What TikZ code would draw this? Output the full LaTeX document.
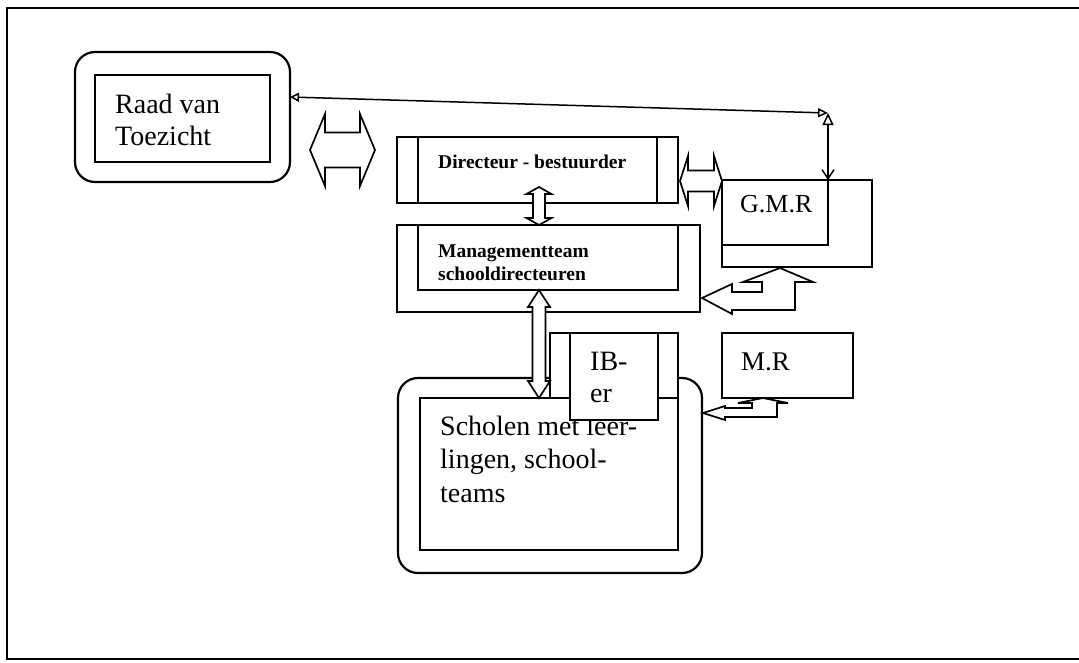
\documentclass[tikz,border=0pt]{standalone}
\usepackage{fontspec}
\setmainfont{Liberation Serif}
\usetikzlibrary{calc,arrows.meta}
\tikzset{
  box/.style={draw, line width=1.9pt, inner sep=0pt, outer sep=0pt, fill=white},
  rbox/.style={box, rounded corners=20pt, line width=2.2pt},
  blk/.style={draw, fill=white, line width=1.7pt, line join=miter},
  thin/.style={line width=1.5pt},
  lbl/.style={anchor=base west, inner sep=0pt, text=black},
  big/.style={lbl, font=\fontsize{28}{33}\selectfont},
  mid/.style={lbl, font=\fontsize{26}{30}\selectfont},
  small/.style={lbl, font=\bfseries\fontsize{19.5}{23}\selectfont},
}
\newcommand\hblk[5]{\draw[blk] (#1) -- ($(#1)+(#3,-#4)$) -- ($(#1)+(#3,-#5)$) -- ($(#2)+(-#3,-#5)$) -- ($(#2)+(-#3,-#4)$) -- (#2) -- ($(#2)+(-#3,#4)$) -- ($(#2)+(-#3,#5)$) -- ($(#1)+(#3,#5)$) -- ($(#1)+(#3,#4)$) -- cycle;}
\newcommand\vblk[5]{\draw[blk] (#1) -- ($(#1)+(#4,#3)$) -- ($(#1)+(#5,#3)$) -- ($(#2)+(#5,-#3)$) -- ($(#2)+(#4,-#3)$) -- (#2) -- ($(#2)+(-#4,-#3)$) -- ($(#2)+(-#5,-#3)$) -- ($(#1)+(-#5,#3)$) -- ($(#1)+(-#4,#3)$) -- cycle;}
\begin{document}
\begin{tikzpicture}[x=1pt,y=-1pt]
\useasboundingbox (0,0) rectangle (1079,662);
% frame
\draw[line width=2.5pt] (1079,8) -- (7,8) -- (7,659) -- (1079,659);

% Raad van Toezicht
\node[rbox, minimum width=215pt, minimum height=130pt] (raadO) at (182.5,117) {};
\node[box, minimum width=175pt, minimum height=87pt] (raadI) at (182.5,118.5) {};
\node[big] (t1) at (115,113) {Raad van};
\node[big] (t2) at (115,145) {Toezicht};

% Directeur - bestuurder
\node[box, minimum width=281pt, minimum height=66pt] (dir) at (537.5,170) {};
\draw[thin] ([xshift=21pt]dir.north west) -- ([xshift=21pt]dir.south west);
\draw[thin] ([xshift=-21pt]dir.north east) -- ([xshift=-21pt]dir.south east);
\node[small] (t3) at (438,168) {Directeur - bestuurder};

% Managementteam
\node[box, minimum width=303pt, minimum height=87pt] (mgmtO) at (548.5,268.5) {};
\node[box, minimum width=260pt, minimum height=65pt] (mgmtI) at (548,257.5) {};
\node[small] (t4) at (438,257) {Managementteam};
\node[small] (t5) at (438,280) {schooldirecteuren};

% G.M.R
\node[box, minimum width=150pt, minimum height=87pt] (gmrO) at (797,223.5) {};
\node[box, minimum width=106pt, minimum height=65pt] (gmrI) at (775,212.5) {};
\node[mid] (t6) at (740,212) {G.M.R};

% Scholen
\node[rbox, minimum width=304pt, minimum height=195pt] (scholO) at (550,475.5) {};
\node[box, minimum width=258pt, minimum height=152pt] (scholI) at (549,474) {};
\node[big] (t7) at (440,435) {Scholen met leer-};
\node[big] (t8) at (440,468.5) {lingen, school-};
\node[big] (t9) at (440,502) {teams};

% IB-er
\node[box, minimum width=128pt, minimum height=65pt] (ibB) at (614,365.5) {};
\node[box, minimum width=88pt, minimum height=87pt] (ib) at (614,376.5) {};
\node[big] (t10) at (590,370) {IB-};
\node[big] (t11) at (590,402) {er};

% M.R
\node[box, minimum width=131pt, minimum height=65pt] (mr) at (787.5,365.5) {};
\node[mid, font=\fontsize{27}{30}\selectfont] (t12) at (741,370) {M.R};

% block arrows
\coordinate (ra1) at (310,150);
\coordinate (ra2) at (375,150);
\hblk{ra1}{ra2}{15}{36}{17.5}
\coordinate (dg1) at (680,181);
\coordinate (dg2) at (722,181);
\hblk{dg1}{dg2}{8}{25}{10.5}
\coordinate (dm1) at (539,187);
\coordinate (dm2) at (539,225);
\vblk{dm1}{dm2}{7}{12.5}{6}
\coordinate (ms1) at (539,290);
\coordinate (ms2) at (539,398);
\vblk{ms1}{ms2}{17}{11}{6.5}

% bent arrows
\coordinate (gu) at (780,268);
\draw[blk] (gu) -- +(33,14) -- +(15,14) -- +(15,42) -- +(-48,42) -- +(-48,46) -- +(-78,30) -- +(-48,16) -- +(-48,24) -- +(-18,24) -- +(-18,14) -- +(-37,14) -- cycle;
\coordinate (mu) at (763,398);
\draw[blk] (mu) -- +(25,5) -- +(14,5) -- +(14,19) -- +(-38,19) -- +(-38,22) -- +(-60,15) -- +(-38,8) -- +(-38,10) -- +(-11,10) -- +(-11,5) -- +(-25,5) -- cycle;

% thin connectors
\coordinate (c) at (828,113);
\draw[thin, {Triangle[open,length=9pt,width=9pt]}-{Triangle[open,length=10pt,width=9pt]}] ([yshift=20pt]raadO.east) -- (c);
\draw[thin, {Triangle[open,length=12pt,width=11pt]}-{Straight Barb[length=9pt,width=12pt]}] (c) -- (gmrI.north east);
\end{tikzpicture}
\end{document}
